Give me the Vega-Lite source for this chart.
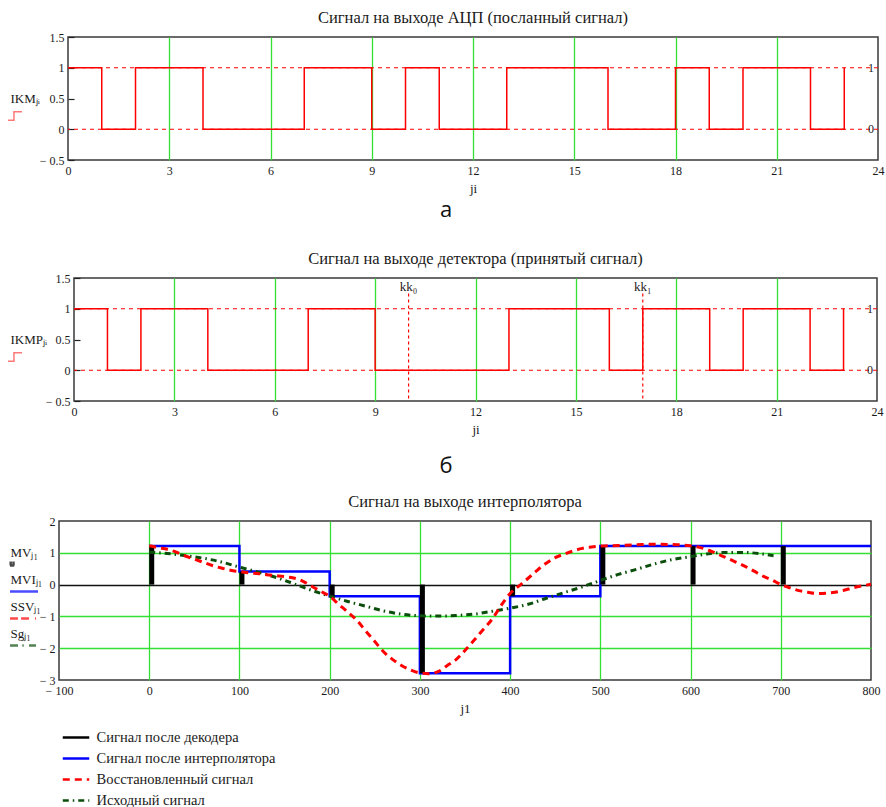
{
 "$schema": "https://vega.github.io/schema/vega-lite/v6.json",
 "background": "white",
 "padding": {"left": 0, "top": 8, "right": 0, "bottom": 0},
 "columns": 1,
 "align": "none",
 "spacing": 0,
 "resolve": {
  "scale": {"color": "independent", "strokeDash": "independent", "shape": "independent", "stroke": "independent"},
  "legend": {"color": "independent", "strokeDash": "independent", "shape": "independent", "stroke": "independent"}
 },
 "config": {
  "font": "Liberation Serif",
  "view": {"stroke": "#3a3a3a", "strokeWidth": 1.5},
  "axis": {"labelFont": "Liberation Serif", "labelFontSize": 12, "labelColor": "#1a1a1a", "titleFont": "Liberation Serif", "titleFontSize": 13, "titleFontWeight": "normal", "titleColor": "#1a1a1a", "ticks": false, "domain": false, "grid": false, "labelPadding": 5, "labelFlush": false, "labelOverlap": false, "tickCount": 30},
  "title": {"font": "Liberation Serif", "fontSize": 16.5, "fontWeight": "normal", "color": "#1a1a1a", "anchor": "middle", "offset": 5},
  "legend": {"labelFont": "Liberation Serif", "labelFontSize": 14.5, "labelColor": "#1a1a1a", "symbolStrokeWidth": 2.5, "labelLimit": 400, "labelOffset": 6, "padding": 0}
 },
 "datasets": {
  "none": [],
  "mk": [{"v": 0, "lab": "0"}, {"v": 1, "lab": "1"}],
  "kk": [{"ji": 10, "lab": "kk₀"}, {"ji": 17, "lab": "kk₁"}],
  "ikm": [
   {"ji": 0, "v": 1}, {"ji": 1, "v": 0}, {"ji": 2, "v": 1}, {"ji": 3, "v": 1}, {"ji": 4, "v": 0}, {"ji": 5, "v": 0},
   {"ji": 6, "v": 0}, {"ji": 7, "v": 1}, {"ji": 8, "v": 1}, {"ji": 9, "v": 0}, {"ji": 10, "v": 1}, {"ji": 11, "v": 0},
   {"ji": 12, "v": 0}, {"ji": 13, "v": 1}, {"ji": 14, "v": 1}, {"ji": 15, "v": 1}, {"ji": 16, "v": 0}, {"ji": 17, "v": 0},
   {"ji": 18, "v": 1}, {"ji": 19, "v": 0}, {"ji": 20, "v": 1}, {"ji": 21, "v": 1}, {"ji": 22, "v": 0}, {"ji": 23, "v": 1}
  ],
  "ikmp": [
   {"ji": 0, "v": 1}, {"ji": 1, "v": 0}, {"ji": 2, "v": 1}, {"ji": 3, "v": 1}, {"ji": 4, "v": 0}, {"ji": 5, "v": 0},
   {"ji": 6, "v": 0}, {"ji": 7, "v": 1}, {"ji": 8, "v": 1}, {"ji": 9, "v": 0}, {"ji": 10, "v": 0}, {"ji": 11, "v": 0},
   {"ji": 12, "v": 0}, {"ji": 13, "v": 1}, {"ji": 14, "v": 1}, {"ji": 15, "v": 1}, {"ji": 16, "v": 0}, {"ji": 17, "v": 1},
   {"ji": 18, "v": 1}, {"ji": 19, "v": 0}, {"ji": 20, "v": 1}, {"ji": 21, "v": 1}, {"ji": 22, "v": 0}, {"ji": 23, "v": 1}
  ],
  "steps": [
   {"j1": 0, "v": 1.21, "s": "Сигнал после интерполятора"}, {"j1": 100, "v": 0.41, "s": "Сигнал после интерполятора"},
   {"j1": 200, "v": -0.37, "s": "Сигнал после интерполятора"}, {"j1": 300, "v": -2.79, "s": "Сигнал после интерполятора"},
   {"j1": 400, "v": -0.37, "s": "Сигнал после интерполятора"}, {"j1": 500, "v": 1.21, "s": "Сигнал после интерполятора"},
   {"j1": 600, "v": 1.21, "s": "Сигнал после интерполятора"}, {"j1": 700, "v": 1.21, "s": "Сигнал после интерполятора"},
   {"j1": 800, "v": 1.21, "s": "Сигнал после интерполятора"}
  ],
  "stems": [
   {"j1": 0, "v": 1.21, "s": "Сигнал после декодера"}, {"j1": 100, "v": 0.41, "s": "Сигнал после декодера"},
   {"j1": 200, "v": -0.37, "s": "Сигнал после декодера"}, {"j1": 300, "v": -2.79, "s": "Сигнал после декодера"},
   {"j1": 400, "v": -0.37, "s": "Сигнал после декодера"}, {"j1": 500, "v": 1.21, "s": "Сигнал после декодера"},
   {"j1": 600, "v": 1.21, "s": "Сигнал после декодера"}, {"j1": 700, "v": 1.21, "s": "Сигнал после декодера"}
  ],
  "curves": [
   {"j1": 0, "v": 1.02, "s": "Исходный сигнал"}, {"j1": 20, "v": 0.98, "s": "Исходный сигнал"}, {"j1": 40, "v": 0.91, "s": "Исходный сигнал"},
   {"j1": 60, "v": 0.83, "s": "Исходный сигнал"}, {"j1": 80, "v": 0.71, "s": "Исходный сигнал"}, {"j1": 100, "v": 0.55, "s": "Исходный сигнал"},
   {"j1": 120, "v": 0.4, "s": "Исходный сигнал"}, {"j1": 140, "v": 0.23, "s": "Исходный сигнал"}, {"j1": 160, "v": 0.03, "s": "Исходный сигнал"},
   {"j1": 180, "v": -0.18, "s": "Исходный сигнал"}, {"j1": 200, "v": -0.36, "s": "Исходный сигнал"}, {"j1": 220, "v": -0.53, "s": "Исходный сигнал"},
   {"j1": 240, "v": -0.68, "s": "Исходный сигнал"}, {"j1": 260, "v": -0.83, "s": "Исходный сигнал"}, {"j1": 280, "v": -0.93, "s": "Исходный сигнал"},
   {"j1": 300, "v": -0.98, "s": "Исходный сигнал"}, {"j1": 320, "v": -0.99, "s": "Исходный сигнал"}, {"j1": 340, "v": -0.97, "s": "Исходный сигнал"},
   {"j1": 360, "v": -0.93, "s": "Исходный сигнал"}, {"j1": 380, "v": -0.84, "s": "Исходный сигнал"}, {"j1": 400, "v": -0.74, "s": "Исходный сигнал"},
   {"j1": 420, "v": -0.62, "s": "Исходный сигнал"}, {"j1": 440, "v": -0.43, "s": "Исходный сигнал"}, {"j1": 460, "v": -0.25, "s": "Исходный сигнал"},
   {"j1": 480, "v": -0.07, "s": "Исходный сигнал"}, {"j1": 500, "v": 0.13, "s": "Исходный сигнал"}, {"j1": 520, "v": 0.32, "s": "Исходный сигнал"},
   {"j1": 540, "v": 0.48, "s": "Исходный сигнал"}, {"j1": 560, "v": 0.65, "s": "Исходный сигнал"}, {"j1": 580, "v": 0.79, "s": "Исходный сигнал"},
   {"j1": 600, "v": 0.88, "s": "Исходный сигнал"}, {"j1": 620, "v": 0.97, "s": "Исходный сигнал"}, {"j1": 640, "v": 1.01, "s": "Исходный сигнал"},
   {"j1": 660, "v": 1.01, "s": "Исходный сигнал"}, {"j1": 680, "v": 0.96, "s": "Исходный сигнал"}, {"j1": 692, "v": 0.91, "s": "Исходный сигнал"},
   {"j1": 0, "v": 1.22, "s": "Восстановленный сигнал"}, {"j1": 10, "v": 1.16, "s": "Восстановленный сигнал"}, {"j1": 20, "v": 1.11, "s": "Восстановленный сигнал"},
   {"j1": 30, "v": 1.02, "s": "Восстановленный сигнал"}, {"j1": 40, "v": 0.9, "s": "Восстановленный сигнал"}, {"j1": 50, "v": 0.8, "s": "Восстановленный сигнал"},
   {"j1": 60, "v": 0.7, "s": "Восстановленный сигнал"}, {"j1": 70, "v": 0.6, "s": "Восстановленный сигнал"}, {"j1": 80, "v": 0.52, "s": "Восстановленный сигнал"},
   {"j1": 90, "v": 0.45, "s": "Восстановленный сигнал"}, {"j1": 100, "v": 0.41, "s": "Восстановленный сигнал"}, {"j1": 110, "v": 0.37, "s": "Восстановленный сигнал"},
   {"j1": 120, "v": 0.35, "s": "Восстановленный сигнал"}, {"j1": 130, "v": 0.31, "s": "Восстановленный сигнал"}, {"j1": 140, "v": 0.28, "s": "Восстановленный сигнал"},
   {"j1": 150, "v": 0.25, "s": "Восстановленный сигнал"}, {"j1": 160, "v": 0.21, "s": "Восстановленный сигнал"}, {"j1": 170, "v": 0.11, "s": "Восстановленный сигнал"},
   {"j1": 180, "v": -0.05, "s": "Восстановленный сигнал"}, {"j1": 190, "v": -0.21, "s": "Восстановленный сигнал"}, {"j1": 200, "v": -0.37, "s": "Восстановленный сигнал"},
   {"j1": 210, "v": -0.62, "s": "Восстановленный сигнал"}, {"j1": 220, "v": -0.86, "s": "Восстановленный сигнал"}, {"j1": 230, "v": -1.12, "s": "Восстановленный сигнал"},
   {"j1": 240, "v": -1.46, "s": "Восстановленный сигнал"}, {"j1": 250, "v": -1.79, "s": "Восстановленный сигнал"}, {"j1": 260, "v": -2.12, "s": "Восстановленный сигнал"},
   {"j1": 270, "v": -2.36, "s": "Восстановленный сигнал"}, {"j1": 280, "v": -2.55, "s": "Восстановленный сигнал"}, {"j1": 290, "v": -2.69, "s": "Восстановленный сигнал"},
   {"j1": 300, "v": -2.78, "s": "Восстановленный сигнал"}, {"j1": 310, "v": -2.8, "s": "Восстановленный сигнал"}, {"j1": 320, "v": -2.74, "s": "Восстановленный сигнал"},
   {"j1": 330, "v": -2.55, "s": "Восстановленный сигнал"}, {"j1": 340, "v": -2.36, "s": "Восстановленный сигнал"}, {"j1": 350, "v": -2.07, "s": "Восстановленный сигнал"},
   {"j1": 360, "v": -1.75, "s": "Восстановленный сигнал"}, {"j1": 370, "v": -1.42, "s": "Восстановленный сигнал"}, {"j1": 380, "v": -1.09, "s": "Восстановленный сигнал"},
   {"j1": 390, "v": -0.66, "s": "Восстановленный сигнал"}, {"j1": 400, "v": -0.28, "s": "Восстановленный сигнал"}, {"j1": 410, "v": -0.04, "s": "Восстановленный сигнал"},
   {"j1": 420, "v": 0.2, "s": "Восстановленный сигнал"}, {"j1": 430, "v": 0.45, "s": "Восстановленный сигнал"}, {"j1": 440, "v": 0.67, "s": "Восстановленный сигнал"},
   {"j1": 450, "v": 0.85, "s": "Восстановленный сигнал"}, {"j1": 460, "v": 0.96, "s": "Восстановленный сигнал"}, {"j1": 470, "v": 1.06, "s": "Восстановленный сигнал"},
   {"j1": 480, "v": 1.14, "s": "Восстановленный сигнал"}, {"j1": 490, "v": 1.18, "s": "Восстановленный сигнал"}, {"j1": 500, "v": 1.21, "s": "Восстановленный сигнал"},
   {"j1": 520, "v": 1.23, "s": "Восстановленный сигнал"}, {"j1": 540, "v": 1.25, "s": "Восстановленный сигнал"}, {"j1": 560, "v": 1.27, "s": "Восстановленный сигнал"},
   {"j1": 580, "v": 1.26, "s": "Восстановленный сигнал"}, {"j1": 600, "v": 1.22, "s": "Восстановленный сигнал"}, {"j1": 610, "v": 1.17, "s": "Восстановленный сигнал"},
   {"j1": 620, "v": 1.08, "s": "Восстановленный сигнал"}, {"j1": 630, "v": 0.96, "s": "Восстановленный сигнал"}, {"j1": 640, "v": 0.84, "s": "Восстановленный сигнал"},
   {"j1": 650, "v": 0.71, "s": "Восстановленный сигнал"}, {"j1": 660, "v": 0.58, "s": "Восстановленный сигнал"}, {"j1": 670, "v": 0.43, "s": "Восстановленный сигнал"},
   {"j1": 680, "v": 0.27, "s": "Восстановленный сигнал"}, {"j1": 690, "v": 0.15, "s": "Восстановленный сигнал"}, {"j1": 700, "v": 0.0, "s": "Восстановленный сигнал"},
   {"j1": 710, "v": -0.1, "s": "Восстановленный сигнал"}, {"j1": 720, "v": -0.19, "s": "Восстановленный сигнал"}, {"j1": 730, "v": -0.24, "s": "Восстановленный сигнал"},
   {"j1": 740, "v": -0.28, "s": "Восстановленный сигнал"}, {"j1": 750, "v": -0.27, "s": "Восстановленный сигнал"}, {"j1": 760, "v": -0.24, "s": "Восстановленный сигнал"},
   {"j1": 770, "v": -0.18, "s": "Восстановленный сигнал"}, {"j1": 780, "v": -0.1, "s": "Восстановленный сигнал"}, {"j1": 790, "v": -0.04, "s": "Восстановленный сигнал"},
   {"j1": 800, "v": 0.01, "s": "Восстановленный сигнал"}
  ]
 },
 "concat": [
  {
   "spacing": 0,
   "resolve": {
    "scale": {"color": "independent", "strokeDash": "independent", "shape": "independent", "stroke": "independent"},
    "legend": {"color": "independent", "strokeDash": "independent", "shape": "independent", "stroke": "independent"}
   },
   "hconcat": [
    {"width": 6, "height": 1, "view": {"stroke": null}, "data": {"name": "none"}, "mark": "text"},
    {
    "width": 810, "height": 123,
    "title": {"text": "Сигнал на выходе АЦП (посланный сигнал)"},
    "layer": [
     {"data": {"name": "ikm"},
      "mark": {"type": "line", "interpolate": "step-after", "color": "#ff0000", "strokeWidth": 1.5},
      "encoding": {
       "x": {"field": "ji", "type": "quantitative", "scale": {"domain": [0, 24], "nice": false, "zero": false},
             "axis": {"values": [0, 3, 6, 9, 12, 15, 18, 21, 24], "tickCount": 30, "title": "ji", "grid": true, "gridWidth": 1.3, "labelOverlap": false,
                      "gridColor": {"condition": {"test": "datum.value == 0 || datum.value == 24", "value": "rgba(0,0,0,0)"}, "value": "#33e033"},
                      "labelPadding": 5, "titlePadding": 6}},
       "y": {"field": "v", "type": "quantitative", "scale": {"domain": [-0.5, 1.5], "nice": false, "zero": false},
             "axis": {"values": [-0.5, 0, 0.5, 1, 1.5], "tickCount": 30, "title": "IKMⱼᵢ", "titleAngle": 0, "titleAlign": "left", "titleBaseline": "middle",
                      "titleX": -58, "titleY": 61, "labelPadding": 10, "labelOverlap": false,
                      "ticks": true, "tickSize": -6, "tickColor": "#222222", "tickWidth": 1.2,
                      "labelExpr": "datum.value < 0 ? '− ' + format(-datum.value, '~g') : format(datum.value, '~g')"}}
      }},
     {"data": {"name": "mk"},
      "mark": {"type": "rule", "color": "#ff0000", "strokeDash": [4, 4], "strokeWidth": 1},
      "encoding": {"y": {"field": "v", "type": "quantitative"}}},
     {"data": {"name": "mk"},
      "mark": {"type": "text", "align": "right", "dx": -4, "fontSize": 12, "font": "Liberation Serif", "color": "#1a1a1a"},
      "encoding": {"x": {"datum": 24}, "y": {"field": "v", "type": "quantitative"}, "text": {"field": "lab"}}},
     {"data": {"name": "none"},
      "mark": {"type": "point", "filled": false},
      "encoding": {
       "shape": {"field": "code", "type": "nominal", "scale": {"domain": ["IKM"], "range": ["M-1,0.6H-0.15V-0.6H1"]},
                 "legend": {"orient": "none", "legendX": -61, "legendY": 71, "title": null, "labelExpr": "''", "symbolSize": 196, "symbolStrokeWidth": 1.5, "symbolFillColor": "transparent"}},
       "stroke": {"field": "code", "type": "nominal", "scale": {"domain": ["IKM"], "range": ["#ff4040"]},
                 "legend": {"orient": "none", "legendX": -61, "legendY": 71, "title": null, "labelExpr": "''", "symbolSize": 196, "symbolStrokeWidth": 1.5, "symbolFillColor": "transparent"}}
      }}
    ]
   }]
  },
  {
   "width": 880, "height": 52.5, "view": {"stroke": null},
   "data": {"values": [{"t": "а"}]},
   "mark": {"type": "text", "font": "Open Sans", "fontSize": 22, "color": "#111111", "dy": -12, "dx": 6},
   "encoding": {"text": {"field": "t"}}
  },
  {
   "spacing": 0,
   "resolve": {
    "scale": {"color": "independent", "strokeDash": "independent", "shape": "independent", "stroke": "independent"},
    "legend": {"color": "independent", "strokeDash": "independent", "shape": "independent", "stroke": "independent"}
   },
   "hconcat": [
    {"width": 6, "height": 1, "view": {"stroke": null}, "data": {"name": "none"}, "mark": "text"},
    {
    "width": 803, "height": 123,
    "title": {"text": "Сигнал на выходе детектора (принятый сигнал)"},
    "layer": [
     {"data": {"name": "ikmp"},
      "mark": {"type": "line", "interpolate": "step-after", "color": "#ff0000", "strokeWidth": 1.5},
      "encoding": {
       "x": {"field": "ji", "type": "quantitative", "scale": {"domain": [0, 24], "nice": false, "zero": false},
             "axis": {"values": [0, 3, 6, 9, 12, 15, 18, 21, 24], "tickCount": 30, "title": "ji", "grid": true, "gridWidth": 1.3, "labelOverlap": false,
                      "gridColor": {"condition": {"test": "datum.value == 0 || datum.value == 24", "value": "rgba(0,0,0,0)"}, "value": "#33e033"},
                      "labelPadding": 5, "titlePadding": 6}},
       "y": {"field": "v", "type": "quantitative", "scale": {"domain": [-0.5, 1.5], "nice": false, "zero": false},
             "axis": {"values": [-0.5, 0, 0.5, 1, 1.5], "tickCount": 30, "title": "IKMPⱼᵢ", "titleAngle": 0, "titleAlign": "left", "titleBaseline": "middle",
                      "titleX": -64, "titleY": 61, "labelPadding": 10, "labelOverlap": false,
                      "ticks": true, "tickSize": -6, "tickColor": "#222222", "tickWidth": 1.2,
                      "labelExpr": "datum.value < 0 ? '− ' + format(-datum.value, '~g') : format(datum.value, '~g')"}}
      }},
     {"data": {"name": "mk"},
      "mark": {"type": "rule", "color": "#ff0000", "strokeDash": [4, 4], "strokeWidth": 1},
      "encoding": {"y": {"field": "v", "type": "quantitative"}}},
     {"data": {"name": "mk"},
      "mark": {"type": "text", "align": "right", "dx": -4, "fontSize": 12, "font": "Liberation Serif", "color": "#1a1a1a"},
      "encoding": {"x": {"datum": 24}, "y": {"field": "v", "type": "quantitative"}, "text": {"field": "lab"}}},
     {"data": {"name": "kk"},
      "mark": {"type": "rule", "color": "#ff0000", "strokeDash": [3, 3], "strokeWidth": 1.2},
      "encoding": {"x": {"field": "ji", "type": "quantitative"}, "y": {"datum": 1.25}, "y2": {"datum": -0.5}}},
     {"data": {"name": "kk"},
      "mark": {"type": "text", "fontSize": 13, "font": "Liberation Serif", "color": "#2a1a1a"},
      "encoding": {"x": {"field": "ji", "type": "quantitative"}, "y": {"datum": 1.36}, "text": {"field": "lab"}}},
     {"data": {"name": "none"},
      "mark": {"type": "point", "filled": false},
      "encoding": {
       "shape": {"field": "code", "type": "nominal", "scale": {"domain": ["IKMP"], "range": ["M-1,0.6H-0.15V-0.6H1"]},
                 "legend": {"orient": "none", "legendX": -67, "legendY": 71, "title": null, "labelExpr": "''", "symbolSize": 196, "symbolStrokeWidth": 1.5, "symbolFillColor": "transparent"}},
       "stroke": {"field": "code", "type": "nominal", "scale": {"domain": ["IKMP"], "range": ["#ff4040"]},
                 "legend": {"orient": "none", "legendX": -67, "legendY": 71, "title": null, "labelExpr": "''", "symbolSize": 196, "symbolStrokeWidth": 1.5, "symbolFillColor": "transparent"}}
      }}
    ]
   }]
  },
  {
   "width": 880, "height": 54.5, "view": {"stroke": null},
   "data": {"values": [{"t": "б"}]},
   "mark": {"type": "text", "font": "Open Sans", "fontSize": 22, "color": "#111111", "dy": 1.5, "dx": 6},
   "encoding": {"text": {"field": "t"}}
  },
  {
   "spacing": 0,
   "resolve": {
    "scale": {"color": "independent", "strokeDash": "independent", "shape": "independent", "stroke": "independent"},
    "legend": {"color": "independent", "strokeDash": "independent", "shape": "independent", "stroke": "independent"}
   },
   "hconcat": [
    {"width": 7, "height": 1, "view": {"stroke": null}, "data": {"name": "none"}, "mark": "text"},
    {
    "width": 812, "height": 159,
    "title": {"text": "Сигнал на выходе интерполятора", "offset": 5},
    "layer": [
     {"data": {"name": "steps"},
      "mark": {"type": "line", "interpolate": "step-after", "strokeWidth": 2.5},
      "encoding": {
       "x": {"field": "j1", "type": "quantitative", "scale": {"domain": [-100, 800], "nice": false, "zero": false},
             "axis": {"values": [-100, 0, 100, 200, 300, 400, 500, 600, 700, 800], "tickCount": 30, "title": "j1", "grid": true, "gridWidth": 1.3, "labelOverlap": false,
                      "gridColor": {"condition": {"test": "datum.value == -100 || datum.value == 800", "value": "rgba(0,0,0,0)"}, "value": "#33e033"},
                      "labelPadding": 5, "titlePadding": 6,
                      "labelExpr": "datum.value < 0 ? '− ' + format(-datum.value, '~g') : format(datum.value, '~g')"}},
       "y": {"field": "v", "type": "quantitative", "scale": {"domain": [-3, 2], "nice": false, "zero": false},
             "axis": {"values": [-3, -2, -1, 0, 1, 2], "tickCount": 30, "title": ["MVⱼ₁", "MVIⱼ₁", "SSVⱼ₁", "Sgⱼ₁"], "titleLineHeight": 27.3,
                      "titleAngle": 0, "titleAlign": "left", "titleBaseline": "middle", "titleX": -49, "titleY": 31, "labelPadding": 4, "labelOverlap": false,
                      "grid": true, "gridWidth": 1.3,
                      "gridColor": {"condition": [{"test": "datum.value == 0", "value": "#111111"}, {"test": "datum.value == 2 || datum.value == -3", "value": "rgba(0,0,0,0)"}], "value": "#33e033"},
                      "labelExpr": "datum.value < 0 ? '− ' + format(-datum.value, '~g') : format(datum.value, '~g')"}},
       "color": {"field": "s", "type": "nominal",
                 "scale": {"domain": ["Сигнал после декодера", "Сигнал после интерполятора", "Восстановленный сигнал", "Исходный сигнал"], "range": ["#000000", "#0000ff", "#ff0000", "#0b4d0b"]},
                 "legend": {"orient": "none", "legendX": 2.5, "legendY": 202, "title": null, "symbolSize": 700, "rowPadding": -7.5}},
       "strokeDash": {"field": "s", "type": "nominal",
                 "scale": {"domain": ["Сигнал после декодера", "Сигнал после интерполятора", "Восстановленный сигнал", "Исходный сигнал"], "range": [[1, 0], [1, 0], [7, 5], [6, 4, 1.5, 4]]},
                 "legend": {"orient": "none", "legendX": 2.5, "legendY": 202, "title": null, "symbolSize": 700, "rowPadding": -7.5}}
      }},
     {"data": {"name": "stems"},
      "mark": {"type": "rule", "strokeWidth": 5, "xOffset": 2.5},
      "encoding": {"x": {"field": "j1", "type": "quantitative"}, "y": {"field": "v", "type": "quantitative"}, "y2": {"datum": 0},
                   "color": {"field": "s", "type": "nominal"}}},
     {"data": {"name": "curves"},
      "mark": {"type": "line", "interpolate": "monotone", "strokeWidth": 3},
      "encoding": {"x": {"field": "j1", "type": "quantitative"}, "y": {"field": "v", "type": "quantitative"},
                   "color": {"field": "s", "type": "nominal"}, "strokeDash": {"field": "s", "type": "nominal"}}},
     {"data": {"name": "none"},
      "mark": {"type": "point", "filled": false},
      "encoding": {
       "shape": {"field": "code", "type": "nominal",
                 "scale": {"domain": ["MV", "MVI", "SSV", "Sg"], "range": ["M-1,0.15H-0.7M-0.95,0.15V-0.15M-0.75,0.15V-0.15", "M-1,0H1", "M-1,0H-0.43M-0.21,0H0.36M0.79,0H0.86", "M-1,0H-0.43M-0.12,0H-0.02M0.36,0H0.86"]},
                 "legend": {"orient": "none", "legendX": -50.5, "legendY": 27, "title": null, "labelExpr": "''", "symbolSize": 784, "rowPadding": 5, "symbolStrokeWidth": 2.5, "symbolFillColor": "transparent"}},
       "stroke": {"field": "code", "type": "nominal",
                  "scale": {"domain": ["MV", "MVI", "SSV", "Sg"], "range": ["#000000", "#0000ff", "#ff0000", "#0b4d0b"]},
                  "legend": {"orient": "none", "legendX": -50.5, "legendY": 27, "title": null, "labelExpr": "''", "symbolSize": 784, "rowPadding": 5, "symbolStrokeWidth": 2.5, "symbolFillColor": "transparent"}}
      }}
    ]
   }]
  }
 ]
}
